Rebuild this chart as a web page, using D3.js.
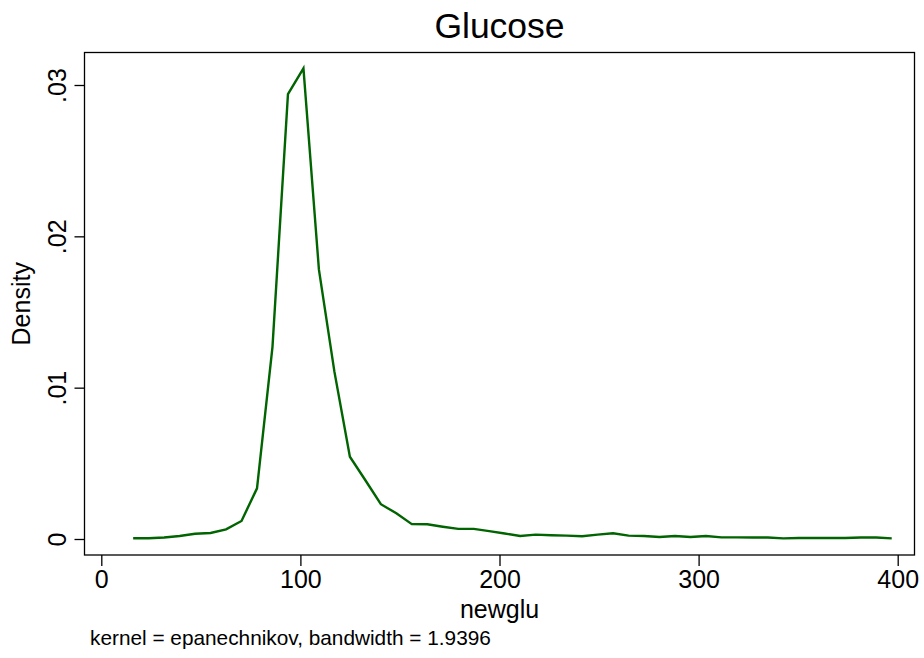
<!DOCTYPE html>
<html><head><meta charset="utf-8">
<script src="https://cdn.jsdelivr.net/npm/d3@7/dist/d3.min.js"></script>
<style>body{margin:0;background:#fff}svg{display:block}text{font-family:"Liberation Sans",Arial,sans-serif;fill:#000}</style>
</head><body><svg id="c" width="924" height="658"></svg>
<script>
// evaluation points (50 points from min 16 to max 397)
const xStart = 16, xEnd = 397, nPoints = 50;
const densityValues = [
 0.00005,0.00005,0.0001,0.0002,0.00035,0.0004,0.00064,0.00119,0.00335,0.0127,
 0.0294,0.0311,0.0178,0.01106,0.00544,0.00388,0.0023,0.0017,0.00098,0.00097,
 0.00081,0.00067,0.00067,0.00052,0.00036,0.0002,0.00029,0.00025,0.00022,0.00018,
 0.00029,0.00038,0.00022,0.0002,0.00013,0.0002,0.00013,0.0002,0.00011,0.00011,
 0.0001,0.0001,0.00004,0.00007,0.00007,0.00007,0.00007,0.0001,0.0001,0.00004];
const xTicks = [0,100,200,300,400];
const yTicks = [0,0.01,0.02,0.03];
const yTickLabels = ["0",".01",".02",".03"];
const title = "Glucose", xTitle = "newglu", yTitle = "Density";
const note = "kernel = epanechnikov, bandwidth = 1.9396";

const xVals = d3.range(nPoints).map(i => xStart + i*(xEnd-xStart)/(nPoints-1));
const data = xVals.map((x,i)=>({x, y: densityValues[i]}));

const svg = d3.select("#c");
const frame = {l:84.5, r:914.5, t:52.5, b:555};
const x = d3.scaleLinear().domain([0,400]).range([101.3,897.7]);
const y = d3.scaleLinear().domain([0,0.03]).range([539,85]);

svg.append("rect").attr("x",frame.l).attr("y",frame.t).attr("width",frame.r-frame.l).attr("height",frame.b-frame.t)
  .attr("fill","none").attr("stroke","#000").attr("stroke-width",1.3);

const xAxis = svg.append("g").attr("transform",`translate(0,${frame.b})`)
  .call(d3.axisBottom(x).tickValues(xTicks).tickSize(11).tickPadding(4).tickFormat(d3.format("d")));
xAxis.select(".domain").remove();
xAxis.selectAll("line").attr("stroke","#000").attr("stroke-width",1.3);
xAxis.selectAll("text").attr("font-size",25).attr("dy","0.71em");

const yAxis = svg.append("g").attr("transform",`translate(${frame.l},0)`)
  .call(d3.axisLeft(y).tickValues(yTicks).tickSize(10).tickFormat((d,i)=>yTickLabels[i]));
yAxis.select(".domain").remove();
yAxis.selectAll("line").attr("stroke","#000").attr("stroke-width",1.3);
yAxis.selectAll("text").attr("font-size",25).attr("x",null).attr("dy",null)
  .attr("text-anchor","middle").attr("transform","translate(-19,0) rotate(-90)");

svg.append("path").datum(data)
  .attr("d", d3.line().x(d=>x(d.x)).y(d=>y(d.y)))
  .attr("fill","none").attr("stroke","#006400").attr("stroke-width",2.4).attr("stroke-linejoin","miter");

svg.append("text").attr("x",(frame.l+frame.r)/2).attr("y",38).attr("text-anchor","middle").attr("font-size",35.5).text(title);
svg.append("text").attr("x",(frame.l+frame.r)/2).attr("y",618).attr("text-anchor","middle").attr("font-size",25).text(xTitle);
svg.append("text").attr("transform",`translate(30,${(frame.t+frame.b)/2}) rotate(-90)`).attr("text-anchor","middle").attr("font-size",25).text(yTitle);
svg.append("text").attr("x",90).attr("y",645).attr("font-size",20.8).text(note);
</script></body></html>
